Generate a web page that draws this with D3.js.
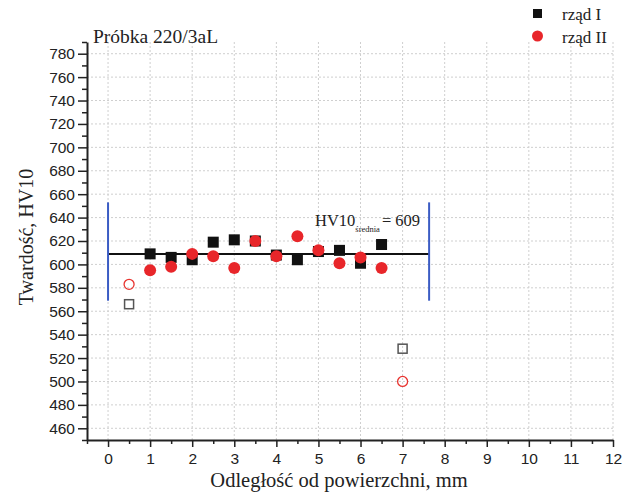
<!DOCTYPE html>
<html>
<head>
<meta charset="utf-8">
<script src="https://cdn.jsdelivr.net/npm/d3@7"></script>
<style>
  body { margin: 0; background: #fff; }
  svg { display: block; }
  .tick text { font-family: "Liberation Sans", Arial, sans-serif; font-size: 15.5px; fill: #222; }
  .serif { font-family: "Liberation Serif", "Times New Roman", serif; fill: #222; }
</style>
</head>
<body>
<svg></svg>
<script>
// row I measurements (filled squares), distance in mm
const rowIx = [1, 1.5, 2, 2.5, 3, 3.5, 4, 4.5, 5, 5.5, 6, 6.5];
const rowIy = [609, 606, 604, 619, 621, 620, 608, 604, 611, 612, 601, 617];
// row II measurements (filled circles)
const rowIIx = [1, 1.5, 2, 2.5, 3, 3.5, 4, 4.5, 5, 5.5, 6, 6.5];
const rowIIy = [595, 598, 609, 607, 597, 620, 607, 624, 612, 601, 606, 597];
// points left out of the mean (open markers)
const outIx = [0.5, 7];
const outIy = [566, 528];
const outIIx = [0.5, 7];
const outIIy = [583, 500];

const meanValue = 609;
const meanRange = [0, 7.63];
const bandRange = [569, 653];

const xTicks = [0, 1, 2, 3, 4, 5, 6, 7, 8, 9, 10, 11, 12];
const yTicks = [460, 480, 500, 520, 540, 560, 580, 600, 620, 640, 660, 680, 700, 720, 740, 760, 780];

const width = 631;
const height = 494;
const margin = { top: 42, right: 18, bottom: 54, left: 87 };

const svg = d3.select("svg").attr("width", width).attr("height", height);

const x = d3.scaleLinear().domain([-0.5, 12]).range([margin.left, width - margin.right]);
const y = d3.scaleLinear().domain([450, 790]).range([height - margin.bottom, margin.top]);

// grid
const grid = svg.append("g").attr("stroke", "#cfcfcf").attr("stroke-dasharray", "2,2").attr("stroke-width", 1);
grid.selectAll(".gx").data(xTicks).join("line")
  .attr("x1", d => x(d)).attr("x2", d => x(d))
  .attr("y1", y(450)).attr("y2", y(790));
grid.selectAll(".gy").data(yTicks).join("line")
  .attr("x1", x(-0.5)).attr("x2", x(12))
  .attr("y1", d => y(d)).attr("y2", d => y(d));

// axes: minor ticks first, then major with labels
svg.append("g")
  .attr("transform", `translate(0,${y(450)})`)
  .call(d3.axisBottom(x).tickValues(d3.range(-0.5, 12, 1)).tickSize(4).tickFormat(""))
  .call(g => g.select(".domain").remove())
  .selectAll("line").attr("stroke", "#222").attr("stroke-width", 1.5);

svg.append("g")
  .attr("transform", `translate(0,${y(450)})`)
  .call(d3.axisBottom(x).tickValues(xTicks).tickSize(7).tickSizeOuter(0).tickPadding(6))
  .call(g => g.select(".domain").attr("stroke", "#222").attr("stroke-width", 2))
  .call(g => g.selectAll(".tick line").attr("stroke", "#222").attr("stroke-width", 1.5));

svg.append("g")
  .attr("transform", `translate(${x(-0.5)},0)`)
  .call(d3.axisLeft(y).tickValues(d3.range(450, 791, 10).filter(v => v % 20 !== 0)).tickSize(5).tickFormat(""))
  .call(g => g.select(".domain").remove())
  .selectAll("line").attr("stroke", "#222").attr("stroke-width", 1.5);

svg.append("g")
  .attr("transform", `translate(${x(-0.5)},0)`)
  .call(d3.axisLeft(y).tickValues(yTicks).tickSize(9).tickSizeOuter(0).tickPadding(3))
  .call(g => g.select(".domain").attr("stroke", "#222").attr("stroke-width", 2))
  .call(g => g.selectAll(".tick line").attr("stroke", "#222").attr("stroke-width", 1.5));

// mean line and range markers
svg.append("line")
  .attr("x1", x(meanRange[0])).attr("x2", x(meanRange[1]))
  .attr("y1", y(meanValue)).attr("y2", y(meanValue))
  .attr("stroke", "#111").attr("stroke-width", 2);

svg.selectAll(".band").data(meanRange).join("line")
  .attr("x1", d => x(d)).attr("x2", d => x(d))
  .attr("y1", y(bandRange[0])).attr("y2", y(bandRange[1]))
  .attr("stroke", "#3b5cc4").attr("stroke-width", 2);

// open markers
const sq = 11;
svg.selectAll(".outI").data(outIx).join("rect")
  .attr("x", (d, i) => x(d) - 4.5).attr("y", (d, i) => y(outIy[i]) - 4.5)
  .attr("width", 9).attr("height", 9)
  .attr("fill", "none").attr("stroke", "#555").attr("stroke-width", 1.5);
svg.selectAll(".outII").data(outIIx).join("circle")
  .attr("cx", d => x(d)).attr("cy", (d, i) => y(outIIy[i])).attr("r", 5)
  .attr("fill", "none").attr("stroke", "#e8332f").attr("stroke-width", 1.3);

// filled markers
svg.selectAll(".rowI").data(rowIx).join("rect")
  .attr("x", d => x(d) - sq / 2).attr("y", (d, i) => y(rowIy[i]) - sq / 2)
  .attr("width", sq).attr("height", sq).attr("fill", "#111");
svg.selectAll(".rowII").data(rowIIx).join("circle")
  .attr("cx", d => x(d)).attr("cy", (d, i) => y(rowIIy[i])).attr("r", 6)
  .attr("fill", "#e8262a");

// annotation
const ann = svg.append("text").attr("class", "serif")
  .attr("x", 315).attr("y", 226).attr("font-size", 16.5);
ann.append("tspan").text("HV10");
ann.append("tspan").attr("font-size", 8.5).attr("dy", 6).text("średnia");
ann.append("tspan").attr("dy", -6).attr("dx", 2).text("= " + meanValue);

// title
svg.append("text").attr("class", "serif")
  .attr("x", 93).attr("y", 43).attr("font-size", 19.5)
  .text("Próbka 220/3aL");

// legend
svg.append("rect").attr("x", 533).attr("y", 9).attr("width", 9).attr("height", 9).attr("fill", "#111");
svg.append("circle").attr("cx", 537.5).attr("cy", 36).attr("r", 5.5).attr("fill", "#e8262a");
svg.append("text").attr("class", "serif").attr("x", 562).attr("y", 20).attr("font-size", 17).text("rząd I");
svg.append("text").attr("class", "serif").attr("x", 562).attr("y", 43).attr("font-size", 17).text("rząd II");

// axis titles
svg.append("text").attr("class", "serif")
  .attr("text-anchor", "middle").attr("font-size", 20)
  .attr("transform", `translate(33,237) rotate(-90)`)
  .text("Twardość, HV10");

svg.append("text").attr("class", "serif")
  .attr("text-anchor", "middle").attr("font-size", 20.5)
  .attr("x", 339).attr("y", 487)
  .text("Odległość od powierzchni, mm");
</script>
</body>
</html>
